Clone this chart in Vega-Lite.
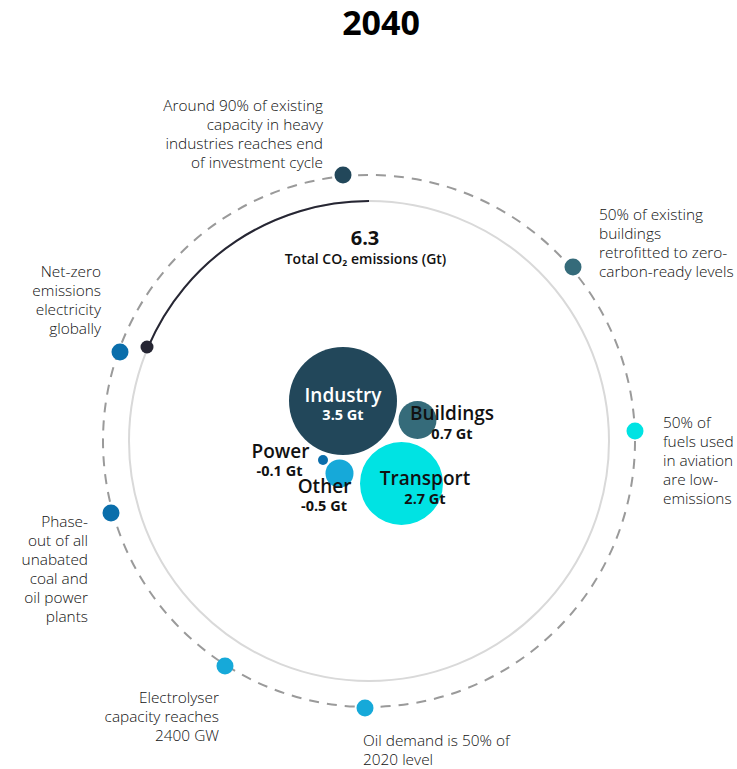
{
  "$schema": "https://vega.github.io/schema/vega-lite/v6.json",
  "autosize": {"type": "fit", "contains": "padding"},
  "width": 737,
  "height": 769,
  "padding": 0,
  "background": "white",
  "config": {"view": {"stroke": null}, "font": "Open Sans"},
  "datasets": {
    "milestones": [
      {"text": "Around 90% of existing|capacity in heavy|industries reaches end|of investment cycle", "sector": "Industry", "x": -26, "y": 266, "lx": -46, "ly": 330, "side": "right"},
      {"text": "50% of existing|buildings|retrofitted to zero-|carbon-ready levels", "sector": "Buildings", "x": 204, "y": 174, "lx": 230, "ly": 221, "side": "left"},
      {"text": "50% of|fuels used|in aviation|are low-|emissions", "sector": "Transport", "x": 266, "y": 10, "lx": 294, "ly": 13, "side": "left"},
      {"text": "Oil demand is 50% of|2020 level", "sector": "Other", "x": -4, "y": -267, "lx": -6, "ly": -305, "side": "left"},
      {"text": "Electrolyser|capacity reaches|2400 GW", "sector": "Other", "x": -144, "y": -225, "lx": -150, "ly": -262, "side": "right"},
      {"text": "Phase-|out of all|unabated|coal and|oil power|plants", "sector": "Power", "x": -258, "y": -72, "lx": -281, "ly": -86, "side": "right"},
      {"text": "Net-zero|emissions|electricity|globally", "sector": "Power", "x": -249, "y": 89, "lx": -268, "ly": 164, "side": "right"}
    ],
    "sectors": [
      {"sector": "Industry", "value": 3.5, "x": -26, "y": 40, "nx": -26, "ny": 45, "vx": -26, "vy": 25.5},
      {"sector": "Buildings", "value": 0.7, "x": 48.5, "y": 21, "nx": 83, "ny": 27, "vx": 83, "vy": 6.5},
      {"sector": "Transport", "value": 2.7, "x": 32.5, "y": -42.5, "nx": 56, "ny": -38, "vx": 56, "vy": -58.5},
      {"sector": "Power", "value": -0.1, "x": -46, "y": -19, "nx": -88.5, "ny": -10.5, "vx": -89.5, "vy": -30.5},
      {"sector": "Other", "value": -0.5, "x": -29.5, "y": -32.5, "nx": -44.5, "ny": -46, "vx": -45, "vy": -66}
    ],
    "progress": [{"x": 0, "y": 0, "start": 293, "end": 360, "dotX": -222, "dotY": 94}]
  },
  "encoding": {
    "x": {"field": "x", "type": "quantitative", "scale": {"domain": [-369, 368], "nice": false, "zero": false}, "axis": null},
    "y": {"field": "y", "type": "quantitative", "scale": {"domain": [-328, 441], "nice": false, "zero": false}, "axis": null}
  },
  "layer": [
    {
      "data": {"name": "progress"},
      "mark": {"type": "point", "shape": "circle", "size": 283024, "filled": false, "stroke": "#9a9a9a", "strokeWidth": 2, "strokeDash": [10, 8], "opacity": 1, "clip": false}
    },
    {
      "data": {"name": "progress"},
      "mark": {"type": "point", "shape": "circle", "size": 230400, "filled": false, "stroke": "#d9d9d9", "strokeWidth": 2, "opacity": 1, "clip": false}
    },
    {
      "data": {"name": "progress"},
      "mark": {"type": "arc", "radius": 241, "radius2": 239, "fill": "#262633"},
      "encoding": {
        "theta": {"field": "start", "type": "quantitative", "scale": {"domain": [0, 360], "range": [0, 6.283185307]}, "stack": null},
        "theta2": {"field": "end"}
      }
    },
    {
      "data": {"name": "progress"},
      "mark": {"type": "point", "shape": "circle", "size": 169, "filled": true, "fill": "#262633", "opacity": 1, "strokeWidth": 0},
      "encoding": {
        "x": {"field": "dotX", "type": "quantitative", "scale": {"domain": [-369, 368], "nice": false, "zero": false}, "axis": null},
        "y": {"field": "dotY", "type": "quantitative", "scale": {"domain": [-328, 441], "nice": false, "zero": false}, "axis": null}
      }
    },
    {
      "data": {"name": "milestones"},
      "mark": {"type": "point", "shape": "circle", "size": 289, "filled": true, "opacity": 1, "strokeWidth": 0},
      "encoding": {
        "color": {"field": "sector", "type": "nominal", "legend": null, "scale": {"domain": ["Industry", "Buildings", "Transport", "Other", "Power"], "range": ["#22475a", "#356b7a", "#00e3e3", "#16a9d9", "#0a6eab"]}}
      }
    },
    {
      "data": {"name": "milestones"},
      "transform": [{"filter": "datum.side === 'right'"}],
      "mark": {"type": "text", "align": "right", "baseline": "alphabetic", "lineBreak": "|", "lineHeight": 19, "fontSize": 15.4, "fontWeight": 300, "color": "#111111"},
      "encoding": {
        "x": {"field": "lx", "type": "quantitative", "scale": {"domain": [-369, 368], "nice": false, "zero": false}, "axis": null},
        "y": {"field": "ly", "type": "quantitative", "scale": {"domain": [-328, 441], "nice": false, "zero": false}, "axis": null},
        "text": {"field": "text"}
      }
    },
    {
      "data": {"name": "milestones"},
      "transform": [{"filter": "datum.side === 'left'"}],
      "mark": {"type": "text", "align": "left", "baseline": "alphabetic", "lineBreak": "|", "lineHeight": 19, "fontSize": 15.4, "fontWeight": 300, "color": "#111111"},
      "encoding": {
        "x": {"field": "lx", "type": "quantitative", "scale": {"domain": [-369, 368], "nice": false, "zero": false}, "axis": null},
        "y": {"field": "ly", "type": "quantitative", "scale": {"domain": [-328, 441], "nice": false, "zero": false}, "axis": null},
        "text": {"field": "text"}
      }
    },
    {
      "data": {"name": "sectors"},
      "transform": [{"calculate": "abs(datum.value)", "as": "magnitude"}],
      "mark": {"type": "point", "shape": "circle", "filled": true, "opacity": 1, "strokeWidth": 0},
      "encoding": {
        "size": {"field": "magnitude", "type": "quantitative", "legend": null, "scale": {"type": "linear", "domain": [0.1, 0.5, 0.7, 2.7, 3.5], "range": [100, 784, 1444, 6889, 11664]}},
        "color": {"field": "sector", "type": "nominal", "legend": null, "scale": {"domain": ["Industry", "Buildings", "Transport", "Other", "Power"], "range": ["#22475a", "#356b7a", "#00e3e3", "#16a9d9", "#0a6eab"]}}
      }
    },
    {
      "data": {"name": "sectors"},
      "mark": {"type": "text", "align": "center", "baseline": "middle", "fontSize": 19, "fontWeight": 600},
      "encoding": {
        "x": {"field": "nx", "type": "quantitative", "scale": {"domain": [-369, 368], "nice": false, "zero": false}, "axis": null},
        "y": {"field": "ny", "type": "quantitative", "scale": {"domain": [-328, 441], "nice": false, "zero": false}, "axis": null},
        "text": {"field": "sector"},
        "color": {"condition": {"test": "datum.sector === 'Industry'", "value": "#ffffff"}, "value": "#111111"}
      }
    },
    {
      "data": {"name": "sectors"},
      "transform": [{"calculate": "(datum.value < 0 ? '-' : '') + format(abs(datum.value), '.1f') + ' Gt'", "as": "valueLabel"}],
      "mark": {"type": "text", "align": "center", "baseline": "middle", "fontSize": 14.5, "fontWeight": "bold"},
      "encoding": {
        "x": {"field": "vx", "type": "quantitative", "scale": {"domain": [-369, 368], "nice": false, "zero": false}, "axis": null},
        "y": {"field": "vy", "type": "quantitative", "scale": {"domain": [-328, 441], "nice": false, "zero": false}, "axis": null},
        "text": {"field": "valueLabel"},
        "color": {"condition": {"test": "datum.sector === 'Industry'", "value": "#ffffff"}, "value": "#111111"}
      }
    },
    {
      "data": {"values": [{"text": "6.3", "x": -4, "y": 202.5}]},
      "mark": {"type": "text", "align": "center", "baseline": "middle", "fontSize": 20, "fontWeight": "bold", "color": "#111111"},
      "encoding": {"text": {"field": "text"}}
    },
    {
      "data": {"values": [{"text": "Total CO₂ emissions (Gt)", "x": -3.5, "y": 181}]},
      "mark": {"type": "text", "align": "center", "baseline": "middle", "fontSize": 14, "fontWeight": 600, "color": "#111111"},
      "encoding": {"text": {"field": "text"}}
    },
    {
      "data": {"values": [{"text": "2040", "x": 12, "y": 416}]},
      "mark": {"type": "text", "align": "center", "baseline": "middle", "fontSize": 34, "fontWeight": "bold", "color": "#000000"},
      "encoding": {"text": {"field": "text"}}
    }
  ]
}
